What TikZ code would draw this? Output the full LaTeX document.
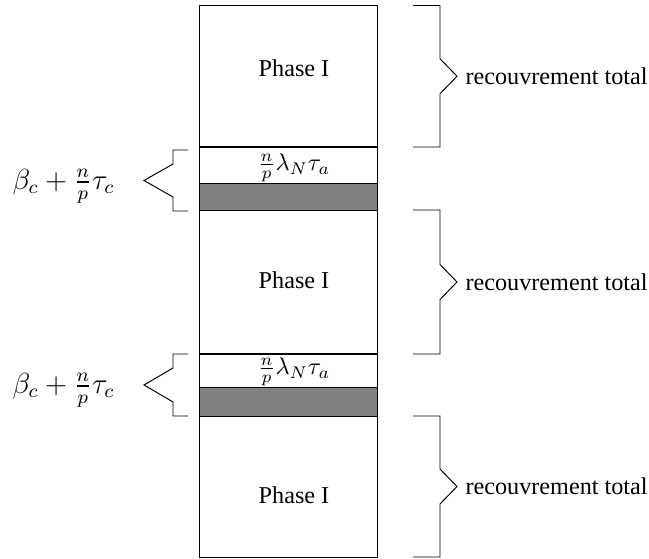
\documentclass[tikz,border=0pt]{standalone}
\usepackage{fontspec}
\setmainfont{Liberation Serif}
\usepackage{amsmath}
\usetikzlibrary{positioning}
\tikzset{%
	slot/.style   = {draw, rectangle, minimum width=73.34pt, inner sep=0pt, outer sep=0pt, line width=0.4pt},
	phase/.style  = {slot}, % Phase I
	comm/.style   = {slot}, % communication
	busy/.style   = {slot, fill=gray}, % blocked
	brace/.style  = {line width=0.4pt},
	cost/.style   = {font=\large}, % left cost
}

\begin{document}
\begin{tikzpicture}[x=0.4132pt,y=-0.4132pt]
	\useasboundingbox (0,0) rectangle (649,559);
	% column of phases
	\node [phase, minimum height=58.47pt] (P1) at (288.25,76.25) {};
	\node [comm, minimum height=14.88pt, below=0pt of P1] (C1) {};
	\node [busy, minimum height=11.16pt, below=0pt of C1] (B1) {};
	\node [phase, minimum height=59.50pt, below=0pt of B1] (P2) {};
	\node [comm, minimum height=13.84pt, below=0pt of P2] (C2) {};
	\node [busy, minimum height=11.78pt, below=0pt of C2] (B2) {};
	\node [phase, minimum height=58.26pt, below=0pt of B2] (P3) {};
	\draw[line width=0.8pt] (C1.north west) -- (C1.north east);
	\draw[line width=0.8pt] (C2.north west) -- (C2.north east);
	\node (L1) at (294,68) {Phase I};
	\node (L2) at (294,280) {Phase I};
	\node (L3) at (294,495) {Phase I};
	\node (N1) at (294,168) {$\frac{n}{p}\lambda_N\tau_a$};
	\node (N2) at (294,372) {$\frac{n}{p}\lambda_N\tau_a$};
	% right braces
	\draw[brace] (413,5.5) -- (440,5.5) -- (440,58.75) -- (457,76.25) node[anchor=west] (R1) {recouvrement total} -- (440,93.75) -- (440,147) -- (413,147);
	\draw[brace] (413,210) -- (440,210) -- (440,264.5) -- (457,282) node[anchor=west] (R2) {recouvrement total} -- (440,299.5) -- (440,354) -- (413,354);
	\draw[brace] (413,416) -- (440,416) -- (440,469) -- (457,486.5) node[anchor=west] (R3) {recouvrement total} -- (440,504) -- (440,557) -- (413,557);
	% left braces
	\draw[brace] (188,150) -- (173,150) -- (173,164) -- (144,180.5) -- (173,197) -- (173,211) -- (188,211);
	\draw[brace] (188,354) -- (173,354) -- (173,368) -- (144,385) -- (173,402) -- (173,416) -- (188,416);
	\node[cost] (K1) at (63.5,186) {$\beta_c + \frac{n}{p}\tau_c$};
	\node[cost] (K2) at (63.5,390) {$\beta_c + \frac{n}{p}\tau_c$};
\end{tikzpicture}
\end{document}
